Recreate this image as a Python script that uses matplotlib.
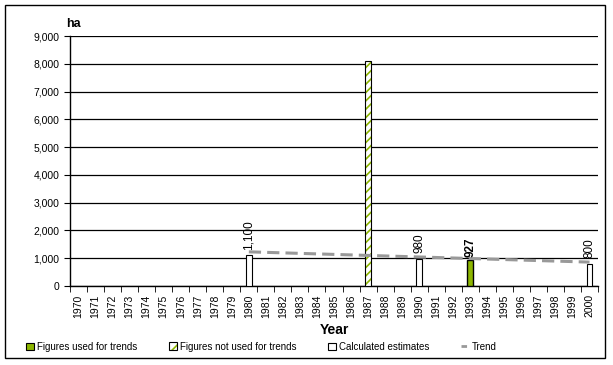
import matplotlib.pyplot as plt
from matplotlib.patches import Patch, Rectangle
from matplotlib.lines import Line2D
from matplotlib.legend_handler import HandlerBase

plt.rcParams["font.family"] = ["Liberation Sans", "DejaVu Sans"]
plt.rcParams["hatch.linewidth"] = 1.2

years = list(range(1970, 2001))
used_years = [1993]
used_values = [927]
not_used_years = [1987]
not_used_values = [8100]
estimate_years = [1980, 1990, 2000]
estimate_values = [1100, 980, 800]
trend_years = [1980, 2000]
trend_values = [1230, 860]

green = "#8DB600"
bar_w = 0.35

fig = plt.figure(figsize=(6.13, 3.65), dpi=100)
ax = fig.add_axes([70 / 613, 1 - 286 / 365, 528 / 613, 250 / 365])

xpos = {y: i for i, y in enumerate(years)}

ax.bar([xpos[y] for y in estimate_years], estimate_values, width=bar_w,
       color="white", edgecolor="black", linewidth=0.8, zorder=3)
ax.bar([xpos[y] for y in used_years], used_values, width=bar_w,
       color=green, edgecolor="black", linewidth=1.0, zorder=3)
# hatched bar: green hatch, then a black outline on top
ax.bar([xpos[y] for y in not_used_years], not_used_values, width=bar_w,
       color="white", edgecolor=green, linewidth=0, hatch="////", zorder=3)
ax.bar([xpos[y] for y in not_used_years], not_used_values, width=bar_w,
       fill=False, edgecolor="black", linewidth=0.8, zorder=3)
ax.plot([xpos[y] for y in trend_years], trend_values, color="#999999",
        linestyle=(0, (4, 2)), linewidth=2.2, zorder=4)

for y, v in zip(estimate_years, estimate_values):
    ax.text(xpos[y], v + 200, f"{v:,}", rotation=90, ha="center", va="bottom", fontsize=8.5, zorder=5)
for y, v in zip(used_years, used_values):
    ax.text(xpos[y], v + 100, f"{v:,}", rotation=90, ha="center", va="bottom", fontsize=8.5,
            fontweight="bold", zorder=5)

ax.set_xlim(-0.5, len(years) - 0.5)
ax.set_ylim(0, 9000)
ax.set_yticks(range(0, 9001, 1000))
ax.set_yticklabels([f"{v:,}" for v in range(0, 9001, 1000)], fontsize=7.5)
ax.yaxis.grid(True, color="black", linewidth=0.9, zorder=0)
ax.set_axisbelow(True)

ax.set_xticks(range(len(years)))
ax.set_xticklabels([str(y) for y in years], rotation=90, fontsize=7.5)
ax.tick_params(axis="x", length=0, pad=6)
ax.set_xticks([i - 0.5 for i in range(len(years) + 1)], minor=True)
ax.tick_params(axis="x", which="minor", length=4, direction="out", color="black")
ax.tick_params(axis="y", length=4, direction="out")

for s in ["top", "right"]:
    ax.spines[s].set_visible(False)
ax.spines["left"].set_linewidth(1)
ax.spines["bottom"].set_linewidth(1)

ax.set_xlabel("Year", fontsize=10, fontweight="bold", labelpad=4)
fig.text(66 / 613, 1 - 24 / 365, "ha", fontsize=9, fontweight="bold", va="center")


class HatchHandler(HandlerBase):
    def create_artists(self, legend, orig_handle, xd, yd, w, h, fontsize, trans):
        r1 = Rectangle((xd, yd), w, h, facecolor="white", edgecolor=green, hatch="///",
                       linewidth=0, transform=trans)
        r2 = Rectangle((xd, yd), w, h, fill=False, edgecolor="black", linewidth=0.8,
                       transform=trans)
        return [r1, r2]


handles = [
    Patch(facecolor=green, edgecolor="black", linewidth=0.8),
    Patch(facecolor="white"),
    Patch(facecolor="white", edgecolor="black", linewidth=0.8),
    Line2D([0], [0], color="#999999", linestyle=(0, (2, 1.5)), linewidth=2),
]
labels = ["Figures used for trends", "Figures not used for trends",
          "Calculated estimates", "Trend"]
fig.legend(handles, labels, loc="lower left", bbox_to_anchor=(0.028, 0.012), ncol=4,
           frameon=False, fontsize=7, handlelength=0.8, handleheight=0.8,
           handletextpad=0.3, columnspacing=3.3,
           handler_map={handles[1]: HatchHandler()})

fig.add_artist(Rectangle((5 / 613, 1 - 358 / 365), 600 / 613, 353 / 365,
                         transform=fig.transFigure, fill=False, edgecolor="black", linewidth=1))

fig.savefig("out.png", dpi=100)
